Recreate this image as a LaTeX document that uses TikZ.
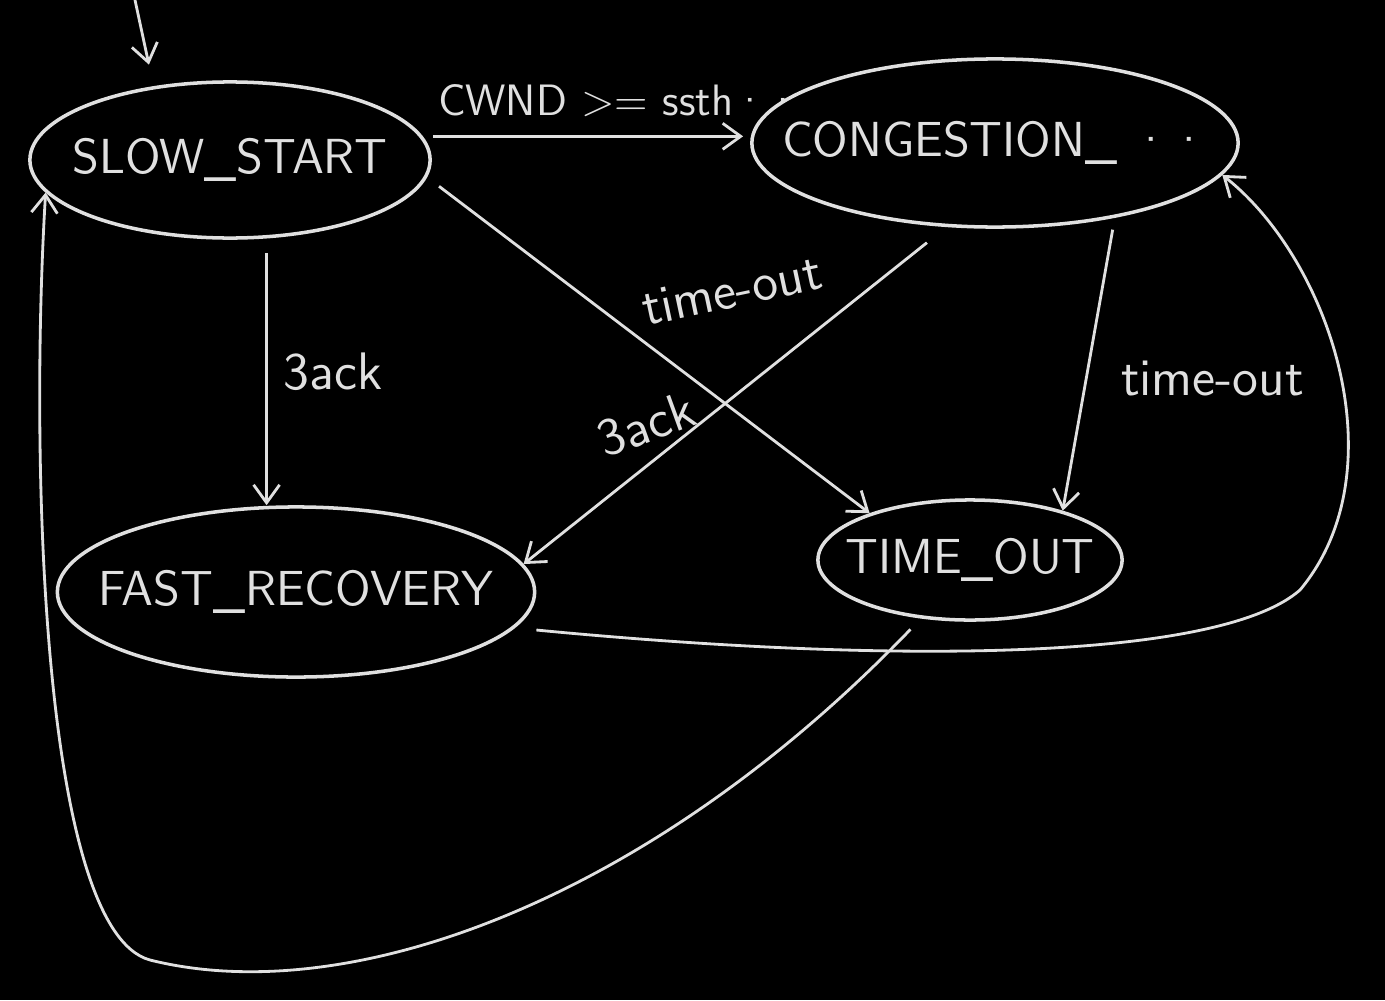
\documentclass[tikz,border=0pt]{standalone}
\usepackage{tikz}
\usetikzlibrary{shapes,arrows.meta,positioning}
\definecolor{chalk}{gray}{0.88}

\begin{document}
\begin{tikzpicture}[x=0.01cm,y=-0.01cm,>={Straight Barb[length=1.8mm,width=2.6mm]},
    state/.style={ellipse,draw=chalk,line width=1pt,text=chalk,inner sep=0pt,
        font=\sffamily\fontsize{14}{16}\selectfont},
    edge/.style={->,draw=chalk,line width=0.8pt},
    lbl/.style={text=chalk,inner sep=1pt,font=\sffamily\fontsize{15}{17}\selectfont}]
    \useasboundingbox (0,0) rectangle (1385,1000);
    \fill[black] (0,0) rectangle (1385,1000);

    % states (text kept out of the ellipse size)
    \node (slow) [state,minimum width=4cm,minimum height=1.56cm] at (230,160) {\makebox[0pt]{SLOW\_START}};
    \node (cong) [state,minimum width=4.86cm,minimum height=1.68cm] at (995,143) {\makebox[0pt]{CONGESTION\_ ··}};
    \node (fast) [state,minimum width=4.77cm,minimum height=1.7cm] at (296,592) {\makebox[0pt]{FAST\_RECOVERY}};
    \node (tout) [state,minimum width=3.04cm,minimum height=1.2cm] at (970,560) {\makebox[0pt]{TIME\_OUT}};

    \coordinate (init) at (135,0);
    \coordinate (bendr) at (1300,590);
    \coordinate (bendl) at (150,960);

    % transitions
    \draw[edge,shorten >=0.22cm] (init) -- (slow.136);
    \draw[edge,shorten <=0.1cm,shorten >=0.07cm] (slow.7) -- node[lbl,pos=0.6,above=0.15cm,font=\sffamily\fontsize{12.5}{15}\selectfont] {CWND >= ssth··} (slow.7 -| cong.west);
    \draw[edge,shorten <=0.15cm] (slow.-65) -- node[lbl,midway,right=0.12cm] {3ack} (slow.-65 |- fast.north);
    \draw[edge,shorten <=0.15cm] (slow.-5) -- node[lbl,pos=0.56,xshift=0.57cm,yshift=0.75cm,rotate=12] {time-out} (tout.155);
    \draw[edge,shorten <=0.25cm] (cong.-120) -- node[lbl,pos=0.71,yshift=0.42cm,rotate=20] {3ack} (fast.7);
    \draw[edge,shorten <=0.12cm] (cong.-32) -- node[lbl,pos=0.55,right=0.3cm] {time-out} (tout.28);
    % back edges
    \draw[edge] ([yshift=-0.38cm]fast.east) .. controls (900,665) and (1220,660) .. (bendr)
        .. controls (1400,470) and (1330,260) .. (cong.-8);
    \draw[edge,shorten <=0.15cm] (tout.-130) .. controls (650,900) and (350,1010) .. (bendl)
        .. controls (40,930) and (30,450) .. (slow.190);
\end{tikzpicture}
\end{document}
